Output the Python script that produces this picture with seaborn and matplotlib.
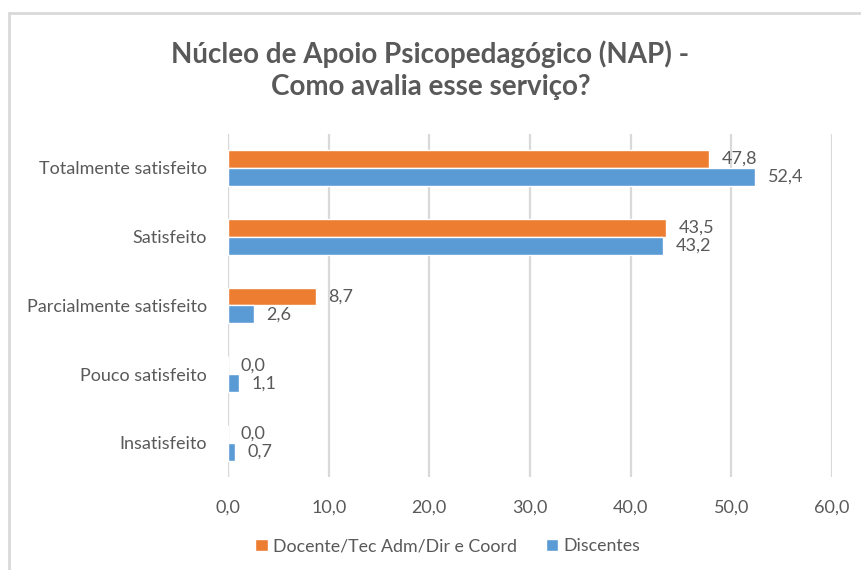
import matplotlib
matplotlib.use("Agg")
import matplotlib.pyplot as plt
from matplotlib.patches import Rectangle
import seaborn as sns
import pandas as pd

categories = ["Totalmente satisfeito", "Satisfeito", "Parcialmente satisfeito",
              "Pouco satisfeito", "Insatisfeito"]
series_names = ["Docente/Tec Adm/Dir e Coord", "Discentes"]
docentes = [47.8, 43.5, 8.7, 0.0, 0.0]
discentes = [52.4, 43.2, 2.6, 1.1, 0.7]
x_ticks = [0, 10, 20, 30, 40, 50, 60]
title = "Núcleo de Apoio Psicopedagógico (NAP) -\nComo avalia esse serviço?"

colors = ["#ED7D31", "#5B9BD5"]
text_color = "#595959"
grid_color = "#D9D9D9"

df = pd.DataFrame({
    "categoria": categories * 2,
    "valor": docentes + discentes,
    "grupo": [series_names[0]] * len(categories) + [series_names[1]] * len(categories),
})

sns.set_theme(style="white")
plt.rcParams["font.family"] = ["Lato", "DejaVu Sans"]

fig = plt.figure(figsize=(8.61, 5.70), dpi=100)
ax = fig.add_axes([0.2648, 0.1625, 0.7015, 0.6031])

sns.barplot(data=df, y="categoria", x="valor", hue="grupo", orient="h",
            order=categories, hue_order=series_names, palette=colors,
            saturation=1, width=0.52, ax=ax, legend=True)

ax.set_xlim(0, 60)
ax.set_xticks(x_ticks)
ax.set_xticklabels([f"{t:.1f}".replace(".", ",") for t in x_ticks],
                   fontsize=13, color=text_color)
ax.tick_params(axis="x", length=0, pad=16)
ax.tick_params(axis="y", length=0, pad=15, labelsize=13, labelcolor=text_color)
ax.set_xlabel("")
ax.set_ylabel("")
ax.xaxis.grid(True, color=grid_color, linewidth=1.6)
ax.set_axisbelow(True)
for s in ax.spines.values():
    s.set_visible(False)
ax.axvline(0, color=grid_color, linewidth=1.6, zorder=0)

for container in ax.containers:
    ax.bar_label(container, labels=[f"{v:.1f}".replace(".", ",") for v in container.datavalues],
                 padding=9, fontsize=13, color=text_color)

fig.text(0.5, 0.877, title, ha="center", va="center", fontsize=20,
         fontweight="bold", color=text_color, linespacing=1.3)

handles, labels = ax.get_legend_handles_labels()
ax.legend_.remove()
fig.legend(handles, labels, loc="center", bbox_to_anchor=(0.52, 0.042), ncol=2,
           frameon=False, fontsize=12.8, handlelength=0.7, handleheight=0.7,
           handletextpad=0.3, columnspacing=1.6, labelcolor=text_color)

# chart frame
fig.patches.append(Rectangle((9 / 861, -0.1), 1.1, 1 - 13.5 / 570 + 0.1,
                             transform=fig.transFigure, fill=False,
                             edgecolor=grid_color, linewidth=2))

fig.savefig("out.png", dpi=100)
